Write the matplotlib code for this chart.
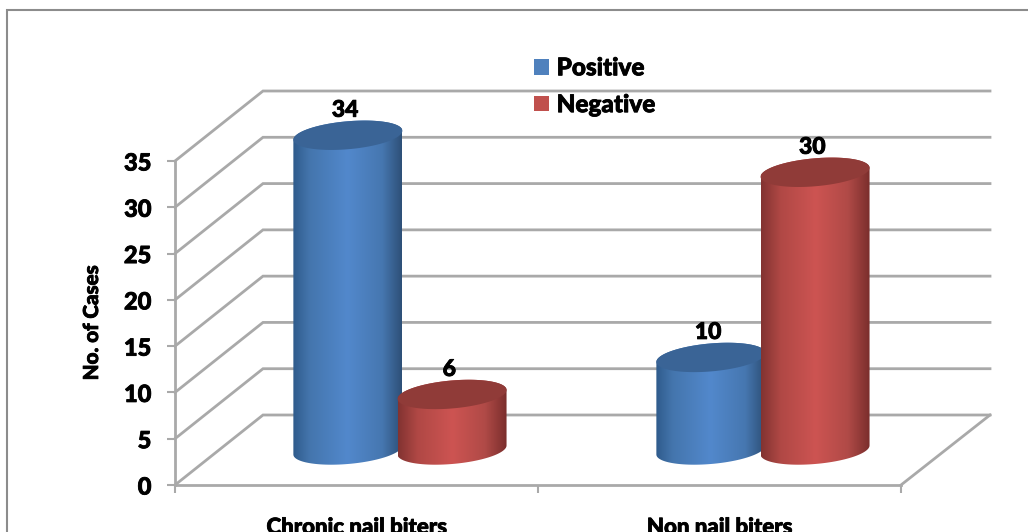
import numpy as np
import matplotlib
matplotlib.use("Agg")
import matplotlib.pyplot as plt
import matplotlib.patheffects as pe
from matplotlib.colors import LinearSegmentedColormap
from matplotlib.lines import Line2D
from matplotlib.patches import Patch, PathPatch, Polygon
from matplotlib.path import Path
from matplotlib.text import Text

categories = ["Chronic nail biters", "Non nail biters"]
series_names = ["Positive", "Negative"]
positive = [34, 10]
negative = [6, 30]
y_ticks = [0, 5, 10, 15, 20, 25, 30, 35]

W, H = 1028, 532
plt.rcParams["font.family"] = ["Lato", "DejaVu Sans"]
plt.rcParams["font.weight"] = "black"

fig = plt.figure(figsize=(W / 100, H / 100), dpi=100)
# front plane of the 3d box
ax = fig.add_axes([175 / W, (H - 485) / H, 726 / W, 324 / H])
ax.set_facecolor("none")

px_x = 2 / 726      # data units for one pixel
px_y = 35 / 324
depth_x = 88 * px_x
depth_y = 70 * px_y
right_end = 815 * px_x
grey = "#a9a9a9"

# outer border, only left and top are in the crop
fig.add_artist(Line2D([7 / W, 7 / W, 1], [0, 1 - 10 / H, 1 - 10 / H], transform=fig.transFigure,
                      color="#8c8c8c", linewidth=1.5, solid_joinstyle="miter"))

# walls and floor
for v in y_ticks:
    ax.plot([0, depth_x, right_end], [v, v + depth_y, v + depth_y], color=grey, lw=2,
            clip_on=False, zorder=1, solid_joinstyle="miter")
ax.plot([2, right_end], [0, depth_y], color=grey, lw=2, clip_on=False, zorder=1)


def cylinder(cx, value, cmap, top_color, z):
    a = 54.5 * px_x
    tilt = 4.5 * px_y
    b = 14 * px_y
    base = depth_y / 2
    top = base + value
    t = np.linspace(0, 2 * np.pi, 121)
    t_low = np.linspace(np.pi, 2 * np.pi, 61)
    xs = cx + a * np.cos(t_low)
    ys = base + tilt * np.cos(t_low) + b * np.sin(t_low)
    t_up = np.linspace(0, np.pi, 61)
    xs2 = cx + a * np.cos(t_up)
    ys2 = top + tilt * np.cos(t_up) + b * np.sin(t_up)
    body = np.column_stack([np.r_[xs, xs2], np.r_[ys, ys2]])
    clip = PathPatch(Path(np.vstack([body, body[0]])), transform=ax.transData)
    grad = np.linspace(0, 1, 256).reshape(1, -1)
    im = ax.imshow(grad, extent=[cx - a, cx + a, base - 2 * b, top + 2 * b], aspect="auto",
                   cmap=cmap, zorder=z)
    im.set_clip_box(fig.bbox)
    im.set_clip_path(clip)
    cap = np.column_stack([cx + a * np.cos(t), top + tilt * np.cos(t) + b * np.sin(t)])
    ax.add_patch(Polygon(cap, closed=True, facecolor=top_color, edgecolor="none",
                         clip_on=False, zorder=z + 0.1))
    ax.annotate(str(value), (cx, top), xytext=(-2, 18), textcoords="offset points",
                ha="center", va="center", fontsize=16.5, fontweight="black", color="black",
                annotation_clip=False, zorder=10)


blue_map = LinearSegmentedColormap.from_list(
    "blue3d", [(0, "#2f5b8c"), (0.15, "#4475ad"), (0.5, "#5288cc"), (0.82, "#4677b0"), (1, "#2e5078")])
red_map = LinearSegmentedColormap.from_list(
    "red3d", [(0, "#823331"), (0.18, "#b04845"), (0.5, "#cd5452"), (0.8, "#b04a47"), (1, "#7a2e2c")])

for i in range(len(categories)):
    cx = i + 0.5 + depth_x / 2
    cylinder(cx - 0.145, positive[i], blue_map, "#3a6496", 3 + i * 2)
    cylinder(cx + 0.142, negative[i], red_map, "#903b38", 4 + i * 2)

ax.set_xlim(0, 2)
ax.set_ylim(0, 35)

for side in ["top", "right"]:
    ax.spines[side].set_visible(False)
for side in ["left", "bottom"]:
    ax.spines[side].set_color(grey)
    ax.spines[side].set_linewidth(2)

ax.set_yticks(y_ticks)
ax.tick_params(axis="y", length=6, width=1.5, color=grey, labelsize=17, pad=11)
ax.set_xticks([0, 1, 2])
ax.set_xticklabels([])
ax.tick_params(axis="x", which="major", length=6, width=1.5, color=grey)
ax.set_xticks([0.5, 1.5], minor=True)
ax.set_xticklabels(categories, minor=True, fontsize=16, fontweight="black")
ax.tick_params(axis="x", which="minor", length=0, pad=23)
ax.set_ylabel("No. of Cases", fontsize=14.8, fontweight="black")
ax.yaxis.set_label_coords((101 - 175) / 726, 0.5)

handles = [Patch(facecolor="#4f81bd"), Patch(facecolor="#c0504d")]
fig.legend(handles, series_names, loc="upper left", bbox_to_anchor=(527 / W, 1 - 49 / H),
           frameon=False, fontsize=17.5, handlelength=0.62, handleheight=0.62,
           handletextpad=0.3, labelspacing=0.57, borderaxespad=0, borderpad=0.3)

# reference text is heavier than the bold face
for txt in fig.findobj(Text):
    txt.set_path_effects([pe.withStroke(linewidth=0.6, foreground="black")])

fig.savefig("out.png", dpi=100)
